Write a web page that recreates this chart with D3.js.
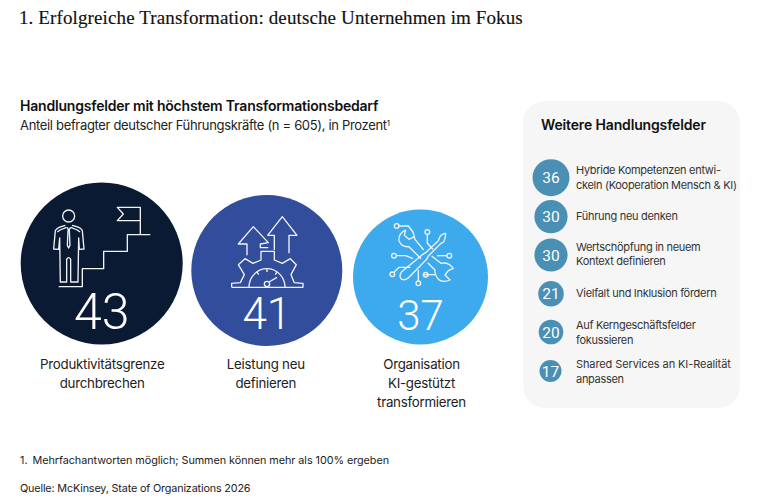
<!DOCTYPE html>
<html><head><meta charset="utf-8">
<script src="https://cdn.jsdelivr.net/npm/d3@7/dist/d3.min.js"></script>
<style>html,body{margin:0;padding:0;background:#fff}svg{display:block}text{font-family:Inter,"Liberation Sans",sans-serif}</style>
</head><body><div id="c"></div>
<script>
const topCategories = [["Produktivitätsgrenze","durchbrechen"],["Leistung neu","definieren"],["Organisation","KI-gestützt","transformieren"]];
const topValues = [43,41,37];
const otherCategories = [["Hybride Kompetenzen entwi-","ckeln (Kooperation Mensch & KI)"],["Führung neu denken"],["Wertschöpfung in neuem","Kontext definieren"],["Vielfalt und Inklusion fördern"],["Auf Kerngeschäftsfelder","fokussieren"],["Shared Services an KI-Realität","anpassen"]];
const otherValues = [36,30,30,21,20,17];
const topColors = ["#0a1a33","#324d9b","#3caaec"];

const svg = d3.select("#c").append("svg").attr("width",767).attr("height",504);
const ink = "#222";
const T = (x,y,s,size,o={}) => svg.append("text").attr("x",x).attr("y",y).text(s)
  .attr("font-size",size).attr("fill",o.fill||ink).attr("font-weight",o.w||400)
  .attr("text-anchor",o.a||"start").style("font-family",o.f||null).style("letter-spacing",o.ls||null);

T(19,24,"1. Erfolgreiche Transformation: deutsche Unternehmen im Fokus",19,{f:'"Liberation Serif",serif',fill:"#111",ls:"0.12px"}).attr("stroke","#111").attr("stroke-width",0.15);
T(20,111,"Handlungsfelder mit höchstem Transformationsbedarf",14,{w:600,fill:"#111",ls:"-0.2px"});
const sub=T(20,130,"Anteil befragter deutscher Führungskräfte (n = 605), in Prozent",13,{ls:"-0.33px"});
sub.append("tspan").text("1").attr("font-size",8).attr("dy",-4);
T(20,464,"1.",10.8);
T(32.5,464,"Mehrfachantworten möglich; Summen können mehr als 100% ergeben",10.8,{ls:"-0.05px"});
T(20,492,"Quelle: McKinsey, State of Organizations 2026",10.8,{ls:"-0.16px"});

// scales (circles are sized to value)
const rTop = d3.scaleLinear().domain([37,41,43]).range([67.5,75.5,81]);
const cxTop = d3.scaleOrdinal().domain(topValues).range([101.7,266.8,420.5]);
const cyTop = d3.scaleOrdinal().domain(topValues).range([263.5,270.5,277]);
const numSize = d3.scaleLinear().domain([37,41,43]).range([42,44,50]);
const baseTop = d3.scaleOrdinal().domain(topValues).range([329,329,330]);

svg.selectAll("circle.top").data(topValues).join("circle").attr("class","top")
  .attr("cx",d=>cxTop(d)).attr("cy",d=>cyTop(d)).attr("r",d=>rTop(d)).attr("fill",(d,i)=>topColors[i]);
svg.selectAll("text.topnum").data(topValues).join("text").attr("class","topnum")
  .attr("x",d=>cxTop(d)).attr("y",d=>baseTop(d)).attr("text-anchor","middle").attr("fill","#fff")
  .attr("font-size",d=>numSize(d)).attr("font-weight",300).style("font-family","Roboto,Inter,sans-serif").text(d=>d);

const labelY=[[369,388],[369,388],[369,388,407]];
topCategories.forEach((ls,i)=>ls.forEach((l,j)=>T(cxTop(topValues[i])+(i==0?0.5:i==1?-1:1),labelY[i][j],l,13.3,{a:"middle",ls:"-0.25px"})));

// icons, traced at 3x
const icon=(tx,ty)=>svg.append("g").attr("transform",`translate(${tx},${ty}) scale(0.3333)`)
  .attr("fill","none").attr("stroke","#f1f3f6").attr("stroke-width",4).attr("stroke-linejoin","round");
const i1=icon(0,170);
[
 "M196,166 C182,170 170,172 166,182 L161,237 L176,238 L179,204 L181,336 L200,336 L200,268 Q206,258 212,268 L212,336 L234,336 L236,204 L238,238 L252,237 L247,182 C244,172 230,170 216,166",
 "M172,186 L180,180 L200,172 M240,186 L232,180 L212,172",
 "M202,172 L206,182 L212,172 M204,182 L208,182 L210,226 L206,234 L202,226 Z",
 "M176,350 L247,350 L247,296 L311,296 L311,244 L382,244 L382,194 L451,194",
 "M421,194 L421,112 L352,112 L370,132 L352,152 L421,152"
].forEach(d=>i1.append("path").attr("d",d));
i1.append("circle").attr("cx",206).attr("cy",138).attr("r",18);

const i2=icon(185,170);
[
 "M186,256 L186,222 L160,222 L205,170 L250,218 L226,222 L226,233 L250,233",
 "M268,240 L268,196 L248,196 L292,140 L336,196 L312,196 L312,250",
 "M140,352 L140,340 L166,338 L178,314 L160,284 L180,266 L204,280 L228,270 L228,244 L268,244 L268,270 L292,280 L316,266 L334,284 L318,314 L328,338 L354,340 L354,352 L140,352",
 "M192,352 A54,56 0 0 1 300,352",
 "M246,296 L246,306 M216,306 L221,314 M276,306 L271,314",
 "M252,336 L276,322"
].forEach(d=>i2.append("path").attr("d",d));
i2.append("circle").attr("cx",246).attr("cy",342).attr("r",8);

const i3=icon(385,220);
[
 "M42,18 L70,18 L84,36 L90,58 L116,90",
 "M62,30 Q40,40 42,62 Q50,82 72,80 L108,116",
 "M62,30 L58,46 L72,58 L88,50",
 "M127,43 L127,70 L144,88",
 "M34,107 L62,107 L84,116",
 "M28,156 L42,142 L76,142",
 "M115,164 L150,164",
 "M100,183 L100,150",
 "M186,107 L156,107",
 "M182,40 Q168,42 164,52 L160,62 L122,98 L112,104 L50,155 Q40,170 50,178 Q62,182 72,172 L125,118 L130,108 L168,70 L176,66 Q182,55 182,40 Z",
 "M140,108 L168,130 Q190,125 205,145 L190,152 L180,165 L195,180 Q170,190 158,175 Q148,160 150,150 L128,128"
].forEach(d=>i3.append("path").attr("d",d));
[[35,18],[127,36],[27,107],[193,107],[22,163],[122,164],[100,190]].forEach(p=>i3.append("circle").attr("cx",p[0]).attr("cy",p[1]).attr("r",7));

// right panel
svg.append("rect").attr("x",523).attr("y",101).attr("width",217).attr("height",307).attr("rx",22).attr("fill","#f6f6f6");
T(541,130,"Weitere Handlungsfelder",14,{w:600,fill:"#111",ls:"-0.15px"});
const rOther=d3.scaleLinear().domain([17,20,21,30,36]).range([11,12.3,12.8,16.6,18.5]);
const yOther=d3.scaleOrdinal().domain(d3.range(6)).range([177.7,216.7,255,293.7,332,371]);
const g=svg.selectAll("g.o").data(otherValues).join("g").attr("class","o");
g.append("circle").attr("cx",(d,i)=>i==5?550.5:551).attr("cy",(d,i)=>yOther(i)).attr("r",d=>rOther(d)).attr("fill","#4a90b5");
g.append("text").attr("x",(d,i)=>i==5?550.5:551).attr("y",(d,i)=>yOther(i)+5.6).attr("text-anchor","middle").attr("fill","#fff")
  .attr("font-size",15.5).style("font-family","Roboto,Inter,sans-serif").text(d=>d);
const yLines=[[174,189],[220],[251,265],[297],[329,344],[368,383]];
otherCategories.forEach((ls,i)=>ls.forEach((l,j)=>T(576,yLines[i][j],l,11,{ls:i==5&&j==0?"-0.1px":"-0.3px",fill:"#333"})));
</script></body></html>
